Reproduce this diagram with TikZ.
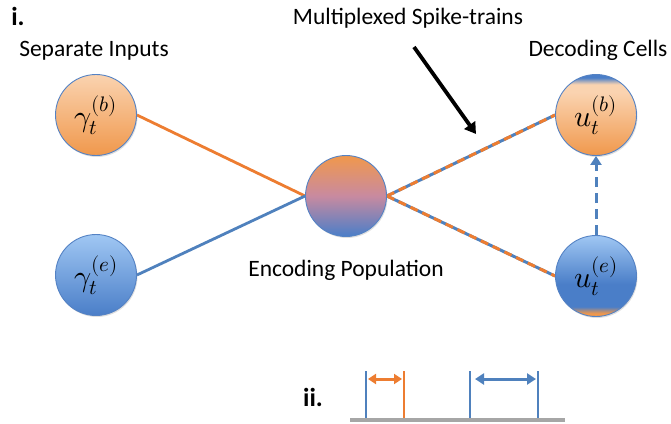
\documentclass[tikz,border=0pt]{standalone}
\usepackage{fontspec}
\usepackage{unicode-math}
\setmainfont{Carlito}
\setmathfont{Latin Modern Math}
\usetikzlibrary{arrows.meta,shadows,backgrounds}
\definecolor{orng}{RGB}{237,125,49}
\definecolor{blu}{RGB}{79,129,189}
\definecolor{edgeb}{RGB}{84,130,196}
\definecolor{gry}{RGB}{166,166,166}
\definecolor{orL}{RGB}{250,211,176}
\definecolor{orD}{RGB}{240,152,76}
\definecolor{blL}{RGB}{160,199,243}
\definecolor{blD}{RGB}{74,126,200}
\definecolor{midp}{RGB}{200,138,160}
\pgfdeclareverticalshading{gbshade}{100bp}{color(0bp)=(orD); color(25bp)=(orD); color(75bp)=(orL); color(100bp)=(orL)}
\pgfdeclareverticalshading{geshade}{100bp}{color(0bp)=(blD); color(25bp)=(blD); color(75bp)=(blL); color(100bp)=(blL)}
\pgfdeclareverticalshading{encshade}{100bp}{color(0bp)=(blD); color(25bp)=(blD); color(50bp)=(midp); color(75bp)=(orD); color(100bp)=(orD)}
\pgfdeclareverticalshading{ubshade}{100bp}{color(0bp)=(orD); color(25bp)=(orD); color(64bp)=(orL); color(69bp)=(orL); color(73bp)=(blD); color(100bp)=(blD)}
\pgfdeclareverticalshading{ueshade}{100bp}{color(0bp)=(orD); color(27bp)=(orD); color(31bp)=(blD); color(45bp)=(blD); color(75bp)=(blL); color(100bp)=(blL)}
\begin{document}
\begin{tikzpicture}[x=1pt,y=-1pt,
  cell/.style={circle, minimum size=81pt, inner sep=0pt, draw=edgeb, line width=0.9pt,
    drop shadow={opacity=0.25, shadow xshift=1pt, shadow yshift=-1.5pt},
    font=\fontsize{30}{34}\selectfont},
  lbl/.style={font=\fontsize{23.5}{27}\selectfont, inner sep=0pt},
  bold lbl/.style={font=\fontsize{26}{30}\selectfont\bfseries, inner sep=0pt},
  orline/.style={draw=orng, line width=2.8pt},
  blline/.style={draw=blu, line width=2.8pt},
  mixline/.style={draw=orng, line width=3pt, dash pattern=on 8pt off 5pt},
  spike/.style={line width=2.6pt}
]
\useasboundingbox (0,0) rectangle (671,423);
% cells
\node[cell, shading=gbshade] (gb) at (96,115) {$\gamma_t^{(b)}$};
\node[cell, shading=geshade] (ge) at (96,275) {$\gamma_t^{(e)}$};
\node[cell, shading=encshade] (enc) at (346,196) {};
\node[cell, shading=ubshade] (ub) at (596,115) {$u_t^{(b)}$};
\node[cell, shading=ueshade] (ue) at (596,276) {$u_t^{(e)}$};
% labels
\node[bold lbl] (li) at (18,16) {i.};
\node[lbl] (lsep) at (94,51) {Separate Inputs};
\node[lbl] (lmux) at (408,18) {Multiplexed Spike-trains};
\node[lbl] (ldec) at (598,50) {Decoding Cells};
\node[lbl] (lenc) at (346,270) {Encoding Population};
\node[bold lbl] (lii) at (313,397) {ii.};
% connectors
\begin{scope}[on background layer]
\draw[orline] (gb.east) -- (enc.west);
\draw[blline] (ge.east) -- (enc.west);
\draw[blline, line width=3pt] (enc.east) -- (ub.west);
\draw[mixline] (enc.east) -- (ub.west);
\draw[blline, line width=3pt] (enc.east) -- (ue.west);
\draw[mixline] (enc.east) -- (ue.west);
\end{scope}
\draw[draw=blu, line width=3pt, dash pattern=on 10pt off 6pt] (ue.north) -- ([yshift=-9pt]ub.south);
\draw[draw=blu, line width=3pt, -{Triangle[length=9pt,width=11pt]}] ([yshift=-11pt]ub.south) -- (ub.south);
% black arrow
\coordinate (k1) at (414,47);
\coordinate (k2) at (476,134);
\draw[line width=3.8pt, -{Triangle[length=11pt,width=13pt]},
  drop shadow={opacity=0.2, shadow xshift=1pt, shadow yshift=-1pt}] (k1) -- (k2);
% bottom spike diagram
\coordinate (b0) at (350,420);
\coordinate (b1) at (565,420);
\coordinate (s1t) at (366,371); \coordinate (s1b) at (366,420);
\coordinate (s2t) at (404,371); \coordinate (s2b) at (404,420);
\coordinate (s3t) at (470,371); \coordinate (s3b) at (470,420);
\coordinate (s4t) at (538,371); \coordinate (s4b) at (538,420);
\coordinate (a1) at (368,379); \coordinate (a2) at (402,379);
\coordinate (a3) at (475,379); \coordinate (a4) at (536,379);
\draw[spike, blu] (s1t) -- (s1b);
\draw[spike, orng] (s2t) -- (s2b);
\draw[spike, blu] (s3t) -- (s3b);
\draw[spike, blu] (s4t) -- (s4b);
\draw[gry, line width=3.5pt] (b0) -- (b1);
\draw[orng, line width=3pt, {Triangle[length=8pt,width=10pt]}-{Triangle[length=8pt,width=10pt]}] (a1) -- (a2);
\draw[blu, line width=3pt, {Triangle[length=9pt,width=11pt]}-{Triangle[length=9pt,width=11pt]}] (a3) -- (a4);
\end{tikzpicture}
\end{document}
